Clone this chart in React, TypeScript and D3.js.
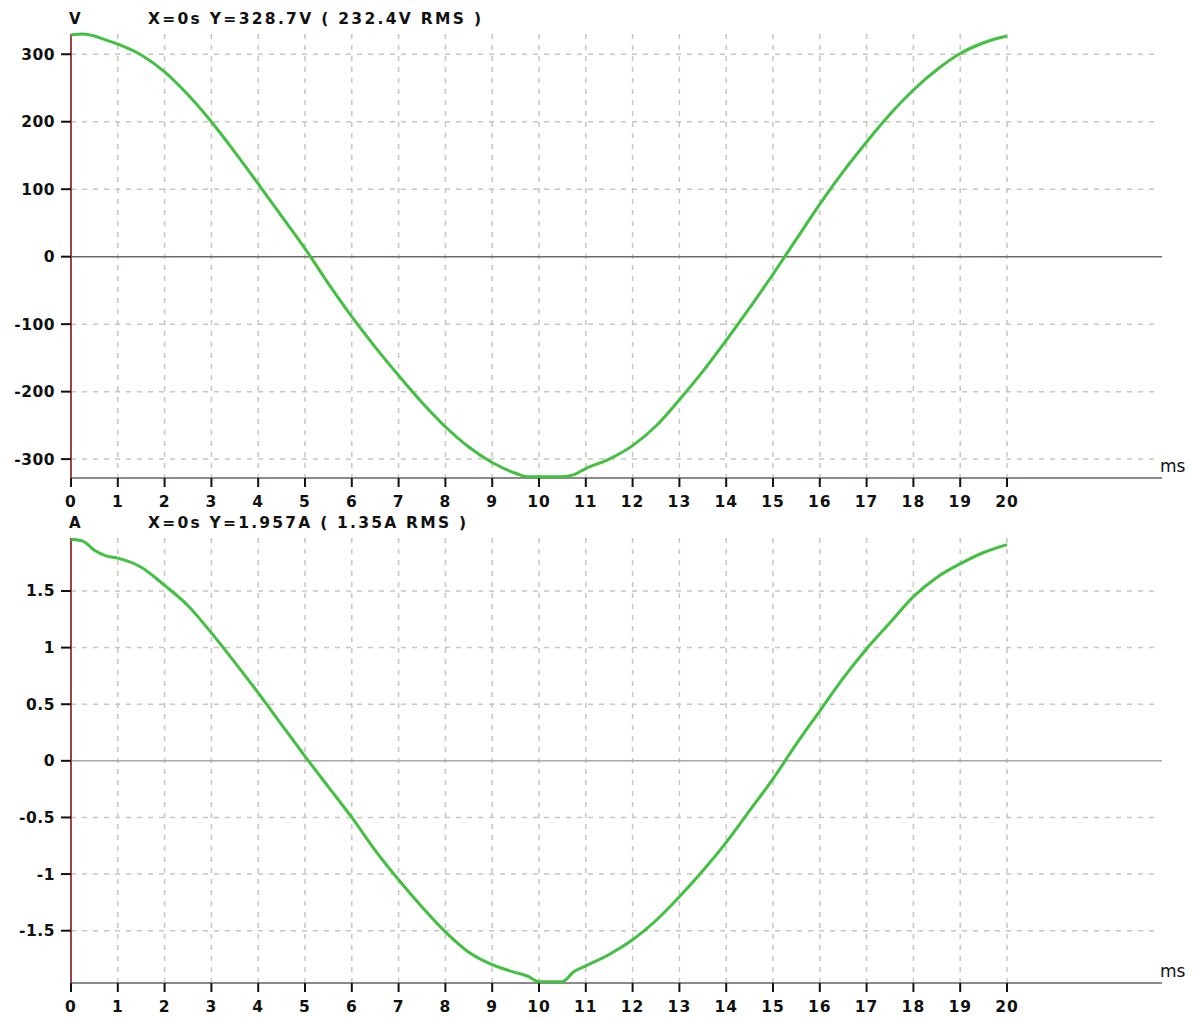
import React from "react";
import * as d3 from "d3";

// sample times (ms) shared by both traces
const timeMs = [
  0, 0.25, 0.5, 0.75, 1, 1.5, 2, 2.5, 3, 3.5, 4, 4.5, 5, 5.5, 6, 6.5, 7, 7.5, 8, 8.5, 9, 9.5,
  9.75, 10, 10.25, 10.5, 10.75, 11, 11.5, 12, 12.5, 13, 13.5, 14, 14.5, 15, 15.5, 16, 16.5,
  17, 17.5, 18, 18.5, 19, 19.5, 20,
];

// voltage trace (V)
const voltage = [
  328.7, 330, 327, 321, 315, 299, 274, 240, 200, 155, 108, 60, 12, -40, -89, -134, -176, -216,
  -252, -282, -305, -321, -326, -326, -326, -326, -323, -314, -300, -280, -251, -212, -170,
  -124, -76, -26, 26, 78, 126, 170, 211, 247, 277, 301, 317, 327,
];

// current trace (A)
const current = [
  1.957, 1.94, 1.86, 1.81, 1.79, 1.71, 1.55, 1.37, 1.13, 0.87, 0.6, 0.32, 0.04, -0.23, -0.5,
  -0.79, -1.05, -1.29, -1.51, -1.69, -1.8, -1.87, -1.9, -1.95, -1.95, -1.95, -1.86, -1.81,
  -1.71, -1.58, -1.41, -1.2, -0.97, -0.72, -0.44, -0.16, 0.15, 0.44, 0.73, 0.99, 1.22, 1.45,
  1.62, 1.74, 1.84, 1.91,
];

const xTicks = d3.range(0, 21);
const voltTicks = [300, 200, 100, 0, -100, -200, -300];
const currTicks = [1.5, 1, 0.5, 0, -0.5, -1, -1.5];

const FONT = "'DejaVu Sans', Verdana, sans-serif";
const GREEN = "#41c041";
const GRID = "#c9c5c0";

type PanelProps = {
  top: number;
  bottom: number;
  domain: [number, number];
  values: number[];
  yTicks: number[];
  unit: string;
  header: string;
  headerWidth: number;
  zeroColor: string;
};

function Panel({ top, bottom, domain, values, yTicks, unit, header, headerWidth, zeroColor }: PanelProps) {
  const x = d3.scaleLinear().domain([0, 20]).range([71, 1007]);
  const y = d3.scaleLinear().domain(domain).range([bottom, top]);
  const gridRight = 1160;

  const line = d3
    .line<number>()
    .x((_d, i) => x(timeMs[i]))
    .y((d) => y(d))
    .curve(d3.curveMonotoneX);

  return (
    <g>
      {/* header */}
      <text x={69} y={top - 10} fontFamily={FONT} fontWeight="bold" fontSize={15} fill="#111">
        {unit}
      </text>
      <text
        x={148}
        y={top - 10}
        fontFamily={FONT}
        fontWeight="bold"
        fontSize={15.5}
        fill="#111"
        textLength={headerWidth}
        lengthAdjust="spacing"
      >
        {header}
      </text>

      {/* vertical grid */}
      {xTicks.slice(1).map((t) => (
        <line
          key={"vg" + t}
          x1={x(t)}
          x2={x(t)}
          y1={top}
          y2={bottom}
          stroke={GRID}
          strokeWidth={1.5}
          strokeDasharray="5,6"
        />
      ))}

      {/* horizontal grid */}
      {yTicks
        .filter((v) => v !== 0)
        .map((v) => (
          <line
            key={"hg" + v}
            x1={71}
            x2={gridRight}
            y1={y(v)}
            y2={y(v)}
            stroke={GRID}
            strokeWidth={1.5}
            strokeDasharray="5,6"
          />
        ))}

      {/* zero line */}
      <line x1={71} x2={1162} y1={y(0)} y2={y(0)} stroke={zeroColor} strokeWidth={1.5} />

      {/* x axis */}
      <line x1={70} x2={1162} y1={bottom} y2={bottom} stroke="#8a8a8a" strokeWidth={2} />
      {xTicks.map((t) => (
        <g key={"xt" + t}>
          <line x1={x(t)} x2={x(t)} y1={bottom} y2={bottom + 9} stroke="#111" strokeWidth={2} />
          <text
            x={x(t)}
            y={bottom + 29}
            textAnchor="middle"
            fontFamily={FONT}
            fontWeight="bold"
            fontSize={15.5}
            letterSpacing={1}
            fill="#111"
          >
            {t}
          </text>
        </g>
      ))}
      <text x={1160} y={bottom - 6} fontFamily={FONT} fontSize={17} fill="#111">
        ms
      </text>

      {/* y axis */}
      <line x1={71} x2={71} y1={top} y2={bottom} stroke="#9a4444" strokeWidth={2} />
      {yTicks.map((v) => (
        <g key={"yt" + v}>
          <line x1={61} x2={71} y1={y(v)} y2={y(v)} stroke="#111" strokeWidth={2} />
          <text
            x={55}
            y={y(v) + 5.5}
            textAnchor="end"
            fontFamily={FONT}
            fontWeight="bold"
            fontSize={15.5}
            letterSpacing={0.5}
            fill="#111"
          >
            {v}
          </text>
        </g>
      ))}

      {/* trace */}
      <path d={line(values) ?? ""} fill="none" stroke={GREEN} strokeWidth={3} strokeLinejoin="round" />
    </g>
  );
}

export default function App() {
  return (
    <div style={{ position: "absolute", left: 0, top: 0 }}>
      <svg width={1201} height={1021} style={{ display: "block", background: "#fff" }}>
        <Panel
          top={34}
          bottom={478}
          domain={[-328, 330]}
          values={voltage}
          yTicks={voltTicks}
          unit="V"
          header="X=0s  Y=328.7V  ( 232.4V RMS )"
          headerWidth={333}
          zeroColor="#6f6a66"
        />
        <Panel
          top={538}
          bottom={983}
          domain={[-1.962, 1.968]}
          values={current}
          yTicks={currTicks}
          unit="A"
          header="X=0s  Y=1.957A  ( 1.35A RMS )"
          headerWidth={318}
          zeroColor="#a9a9a9"
        />
      </svg>
    </div>
  );
}
